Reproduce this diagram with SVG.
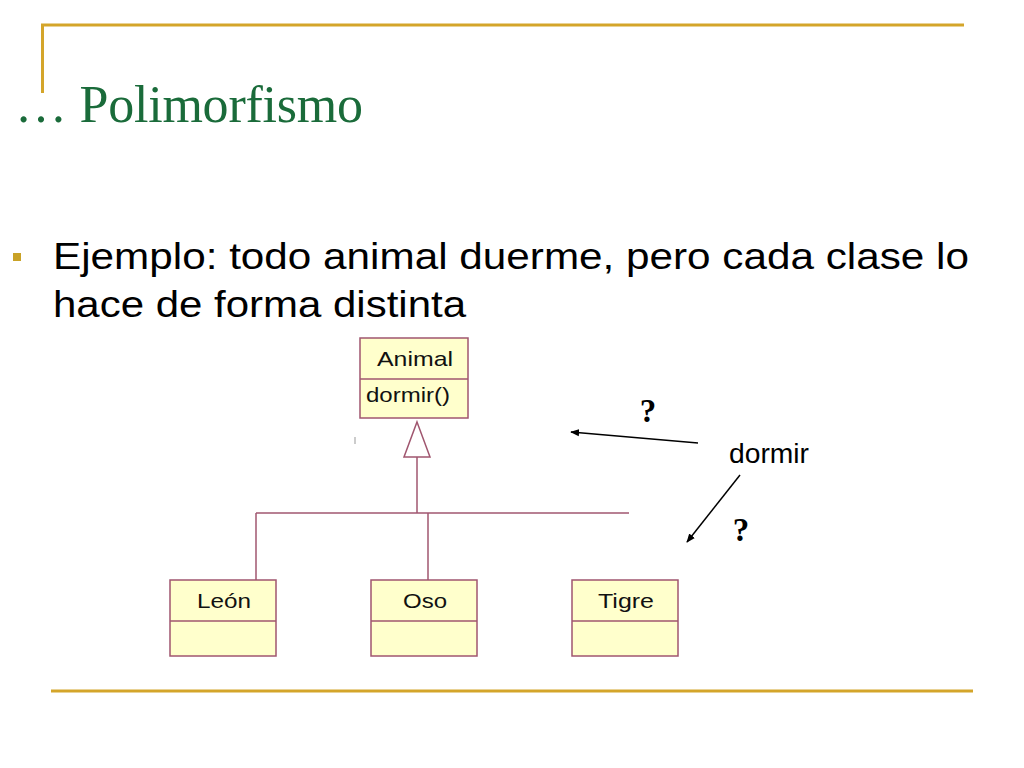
<svg xmlns="http://www.w3.org/2000/svg" width="1024" height="768" viewBox="0 0 1024 768">
<style>
.gold{stroke:#d4a52a;stroke-width:3;fill:none}
.box{fill:#ffffcc;stroke:#a0566f;stroke-width:1.5}
.conn{stroke:#a0566f;stroke-width:1.5;fill:none}
.uml{font-family:"Liberation Sans",Arial,sans-serif;font-size:21px;fill:#111}
.arrow{stroke:#000;stroke-width:1.5;fill:none;marker-end:url(#ah)}
.q{font-family:"Liberation Serif","Times New Roman",serif;font-weight:bold;font-size:33px;fill:#000}
</style>
<defs>
<marker id="ah" viewBox="0 0 10 10" refX="9" refY="5" markerWidth="9" markerHeight="9" markerUnits="userSpaceOnUse" orient="auto">
<path d="M0,1 L10,5 L0,9 Z" fill="#000"/>
</marker>
</defs>
<rect width="1024" height="768" fill="#fff"/>
<g id="frame">
<polyline class="gold" points="42.5,93 42.5,25 964,25"/>
<line class="gold" x1="51" y1="691" x2="973" y2="691"/>
</g>
<text id="title" x="15" y="122" font-family="'Liberation Serif','Times New Roman',serif" font-size="52" fill="#1a6b3a" textLength="348" lengthAdjust="spacing">… Polimorfismo</text>
<g id="bullet">
<rect x="13" y="253" width="8" height="8" fill="#c9a227"/>
<text x="53" y="269" font-family="'Liberation Sans',Arial,sans-serif" font-size="37" fill="#000" textLength="916" lengthAdjust="spacingAndGlyphs">Ejemplo: todo animal duerme, pero cada clase lo</text>
<text x="53" y="317" font-family="'Liberation Sans',Arial,sans-serif" font-size="37" fill="#000" textLength="413" lengthAdjust="spacingAndGlyphs">hace de forma distinta</text>
</g>
<g id="connectors">
<line x1="355" y1="437" x2="355" y2="444" stroke="#999" stroke-width="1"/>
<polygon class="conn" points="417,422 430,457 404,457" fill="#fff"/>
<line class="conn" x1="417" y1="457" x2="417" y2="513"/>
<line class="conn" x1="256" y1="513" x2="629" y2="513"/>
<line class="conn" x1="256" y1="513" x2="256" y2="580"/>
<line class="conn" x1="428" y1="513" x2="428" y2="580"/>
<line class="arrow" x1="698" y1="443" x2="571" y2="432"/>
<line class="arrow" x1="740" y1="475" x2="687" y2="542"/>
</g>
<g id="animal">
<rect class="box" x="360" y="338" width="108" height="80"/>
<line class="conn" x1="360" y1="379" x2="468" y2="379"/>
<text class="uml" x="377" y="366" textLength="76" lengthAdjust="spacingAndGlyphs">Animal</text>
<text class="uml" x="366" y="402" font-size="19" textLength="84" lengthAdjust="spacingAndGlyphs">dormir()</text>
</g>
<g id="leon">
<rect class="box" x="170" y="580" width="106" height="76"/>
<line class="conn" x1="170" y1="621" x2="276" y2="621"/>
<text class="uml" x="197" y="608" textLength="54" lengthAdjust="spacingAndGlyphs">León</text>
</g>
<g id="oso">
<rect class="box" x="371" y="580" width="106" height="76"/>
<line class="conn" x1="371" y1="621" x2="477" y2="621"/>
<text class="uml" x="403" y="608" textLength="44" lengthAdjust="spacingAndGlyphs">Oso</text>
</g>
<g id="tigre">
<rect class="box" x="572" y="580" width="106" height="76"/>
<line class="conn" x1="572" y1="621" x2="678" y2="621"/>
<text class="uml" x="598" y="608" textLength="56" lengthAdjust="spacingAndGlyphs">Tigre</text>
</g>
<g id="labels">
<text class="q" x="648" y="422" text-anchor="middle">?</text>
<text class="q" x="741" y="541" text-anchor="middle">?</text>
<text x="729" y="463" font-family="'Liberation Sans',Arial,sans-serif" font-size="27" fill="#000" textLength="80" lengthAdjust="spacingAndGlyphs">dormir</text>
</g>
</svg>
